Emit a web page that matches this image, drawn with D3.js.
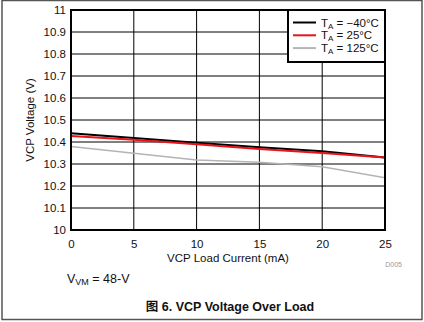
<!DOCTYPE html>
<html><head><meta charset="utf-8">
<script src="https://cdn.jsdelivr.net/npm/d3@7"></script>
<style>body{margin:0;background:#fff}svg{display:block;font-family:"Liberation Sans",Arial,sans-serif}</style>
</head><body><svg id="c" width="424" height="322"></svg>
<script>
const loadCurrent = [0, 5, 10, 15, 20, 25];
const seriesNames = ["−40°C", "25°C", "125°C"];
const vMinus40 = [10.44, 10.418, 10.397, 10.376, 10.358, 10.33];
const v25 = [10.427, 10.41, 10.39, 10.368, 10.35, 10.33];
const v125 = [10.379, 10.349, 10.318, 10.308, 10.288, 10.238];
const seriesColors = ["#000000", "#e8141c", "#b4b4b4"];
const xTicks = [0, 5, 10, 15, 20, 25];
const yTicks = [10, 10.1, 10.2, 10.3, 10.4, 10.5, 10.6, 10.7, 10.8, 10.9, 11];

const svg = d3.select("#c");
const L = 71, R = 385, T = 10, B = 230;
const x = d3.scaleLinear().domain([0, 25]).range([L, R]);
const y = d3.scaleLinear().domain([10, 11]).range([B, T]);

// outer frame
svg.append("rect").attr("x", 2).attr("y", 0.5).attr("width", 420).attr("height", 319)
  .attr("fill", "none").attr("stroke", "#555").attr("stroke-width", 1.5);

// grid
svg.append("g").selectAll("line").data(xTicks).join("line")
  .attr("x1", d => x(d)).attr("x2", d => x(d)).attr("y1", T).attr("y2", B)
  .attr("stroke", "#000").attr("stroke-width", 1);
svg.append("g").selectAll("line").data(yTicks).join("line")
  .attr("x1", L).attr("x2", R).attr("y1", d => y(d)).attr("y2", d => y(d))
  .attr("stroke", "#000").attr("stroke-width", 1);

// axes labels via d3 axes
const ya = svg.append("g").attr("transform", `translate(${L},0)`)
  .call(d3.axisLeft(y).tickValues(yTicks).tickSize(0).tickPadding(5).tickFormat(d => d3.format("~g")(d)));
ya.select(".domain").remove();
ya.selectAll("text").attr("font-size", 11.5).attr("fill", "#111").attr("font-family", "Liberation Sans, Arial, sans-serif");
const xa = svg.append("g").attr("transform", `translate(0,${B})`)
  .call(d3.axisBottom(x).tickValues(xTicks).tickSize(0).tickPadding(10));
xa.select(".domain").remove();
xa.selectAll("text").attr("font-size", 11.5).attr("fill", "#111").attr("font-family", "Liberation Sans, Arial, sans-serif");

// lines
const all = [vMinus40, v25, v125];
const line = d3.line().x((d, i) => x(loadCurrent[i])).y(d => y(d));
[2, 0, 1].forEach(k => {
  svg.append("path").datum(all[k]).attr("d", line).attr("fill", "none")
    .attr("stroke", seriesColors[k]).attr("stroke-width", k === 2 ? 1.5 : 2);
});

// plot border
svg.append("rect").attr("x", L).attr("y", T).attr("width", R - L).attr("height", B - T)
  .attr("fill", "none").attr("stroke", "#000").attr("stroke-width", 2);

// legend
const lg = svg.append("g");
lg.append("rect").attr("x", 288).attr("y", T).attr("width", R - 288).attr("height", 52)
  .attr("fill", "#fff").attr("stroke", "#000").attr("stroke-width", 2);
seriesNames.forEach((n, i) => {
  const yy = 22.5 + i * 12.8;
  lg.append("line").attr("x1", 293).attr("x2", 316).attr("y1", yy).attr("y2", yy)
    .attr("stroke", seriesColors[i]).attr("stroke-width", 2);
  const t = lg.append("text").attr("x", 321).attr("y", yy + 4).attr("font-size", 11.5).attr("fill", "#111");
  t.append("tspan").text("T");
  t.append("tspan").attr("font-size", 8).attr("dy", 2).text("A");
  t.append("tspan").attr("dy", -2).text(" = " + n);
});

// axis titles
svg.append("text").attr("transform", `translate(34,${(T + B) / 2}) rotate(-90)`)
  .attr("text-anchor", "middle").attr("font-size", 11.5).attr("fill", "#111").text("VCP Voltage (V)");
svg.append("text").attr("x", x(12.5)).attr("y", 262).attr("text-anchor", "middle")
  .attr("font-size", 11.5).attr("fill", "#111").text("VCP Load Current (mA)");
svg.append("text").attr("x", 402).attr("y", 267).attr("text-anchor", "end")
  .attr("font-size", 7).attr("fill", "#999").text("D005");

// note
const nt = svg.append("text").attr("x", 67).attr("y", 283).attr("font-size", 12.5).attr("fill", "#111");
nt.append("tspan").text("V");
nt.append("tspan").attr("font-size", 9).attr("dy", 2).text("VM");
nt.append("tspan").attr("dy", -2).text(" = 48-V");

// caption
svg.append("text").attr("x", 230).attr("y", 311).attr("text-anchor", "middle")
  .attr("font-size", 12.5).attr("font-weight", "bold").attr("fill", "#111")
  .attr("font-family", "Liberation Sans, 'Noto Sans CJK SC', sans-serif")
  .text("图 6. VCP Voltage Over Load");
</script></body></html>
